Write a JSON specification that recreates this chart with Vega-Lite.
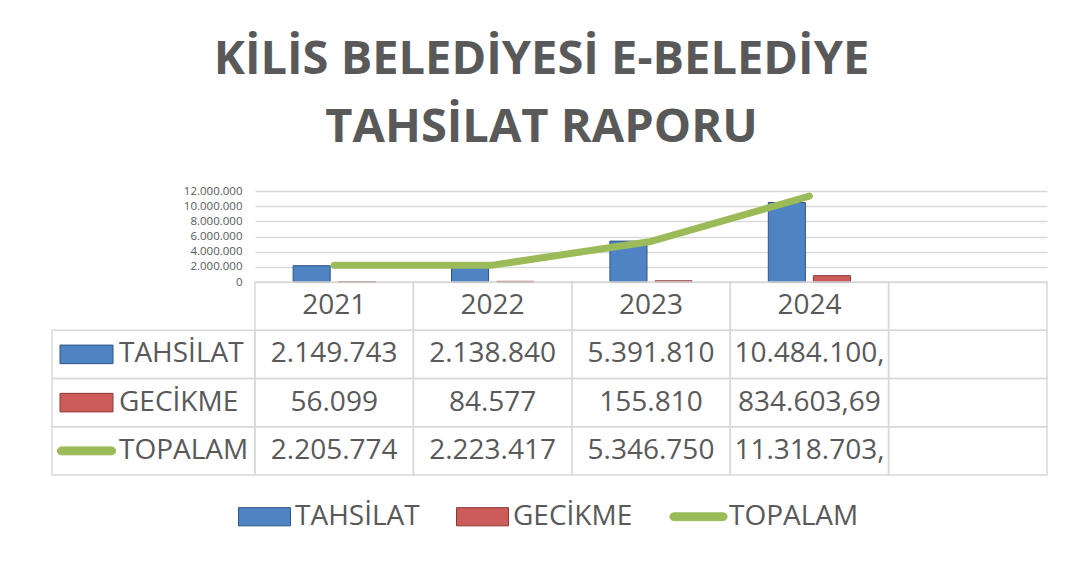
{
  "$schema": "https://vega.github.io/schema/vega-lite/v6.json",
  "width": 995,
  "height": 284,
  "autosize": {"type": "none"},
  "padding": {"left": 52, "top": 191, "right": 26, "bottom": 90},
  "background": "white",
  "config": {
    "view": {"stroke": null},
    "font": "Open Sans",
    "locale": {"number": {"decimal": ",", "thousands": ".", "grouping": [3], "currency": ["", " ₺"]}},
    "legend": {
      "labelFontSize": 28,
      "labelFont": "Open Sans",
      "labelColor": "#595959",
      "symbolSize": 2704,
      "symbolStrokeWidth": 1,
      "labelOffset": 4,
      "columnPadding": 34,
      "padding": 0,
      "labelLimit": 300
    }
  },
  "title": {
    "text": ["KİLİS BELEDİYESİ E-BELEDİYE", "TAHSİLAT RAPORU"],
    "fontSize": 47,
    "font": "Open Sans",
    "fontWeight": "bold",
    "color": "#595959",
    "lineHeight": 68,
    "anchor": "middle",
    "offset": 33,
    "dx": -8
  },
  "datasets": {
    "chart": [
      {"year": "2021", "series": "TAHSİLAT", "value": 2149743},
      {"year": "2022", "series": "TAHSİLAT", "value": 2138840},
      {"year": "2023", "series": "TAHSİLAT", "value": 5391810},
      {"year": "2024", "series": "TAHSİLAT", "value": 10484100},
      {"year": "2021", "series": "GECİKME", "value": 56099},
      {"year": "2022", "series": "GECİKME", "value": 84577},
      {"year": "2023", "series": "GECİKME", "value": 155810},
      {"year": "2024", "series": "GECİKME", "value": 834603.69},
      {"year": "2021", "series": "TOPALAM", "value": 2205774},
      {"year": "2022", "series": "TOPALAM", "value": 2223417},
      {"year": "2023", "series": "TOPALAM", "value": 5346750},
      {"year": "2024", "series": "TOPALAM", "value": 11318703}
    ],
    "cells": [
      {"row": "header", "col": "2021", "label": "2021"},
      {"row": "header", "col": "2022", "label": "2022"},
      {"row": "header", "col": "2023", "label": "2023"},
      {"row": "header", "col": "2024", "label": "2024"},
      {"row": "header", "col": " ", "label": ""},
      {"row": "TAHSİLAT", "col": "2021", "label": "2.149.743"},
      {"row": "TAHSİLAT", "col": "2022", "label": "2.138.840"},
      {"row": "TAHSİLAT", "col": "2023", "label": "5.391.810"},
      {"row": "TAHSİLAT", "col": "2024", "label": "10.484.100,"},
      {"row": "TAHSİLAT", "col": " ", "label": ""},
      {"row": "GECİKME", "col": "2021", "label": "56.099"},
      {"row": "GECİKME", "col": "2022", "label": "84.577"},
      {"row": "GECİKME", "col": "2023", "label": "155.810"},
      {"row": "GECİKME", "col": "2024", "label": "834.603,69"},
      {"row": "GECİKME", "col": " ", "label": ""},
      {"row": "TOPALAM", "col": "2021", "label": "2.205.774"},
      {"row": "TOPALAM", "col": "2022", "label": "2.223.417"},
      {"row": "TOPALAM", "col": "2023", "label": "5.346.750"},
      {"row": "TOPALAM", "col": "2024", "label": "11.318.703,"},
      {"row": "TOPALAM", "col": " ", "label": ""}
    ],
    "rows": [
      {"series": "TAHSİLAT"},
      {"series": "GECİKME"},
      {"series": "TOPALAM"}
    ]
  },
  "layer": [
    {
      "data": {"name": "chart"},
      "layer": [
        {
          "transform": [{"filter": "datum.series !== 'TOPALAM'"}],
          "mark": {"type": "bar", "strokeWidth": 1},
          "encoding": {
            "x": {"field": "year", "type": "nominal", "axis": null,
                  "scale": {"domain": ["2021", "2022", "2023", "2024", " "], "range": [203, 995], "paddingInner": 0, "paddingOuter": 0}},
            "xOffset": {"field": "series", "type": "nominal",
                  "scale": {"domain": ["TAHSİLAT", "GECİKME"], "paddingInner": 0.178, "paddingOuter": 0.845}},
            "y": {"field": "value", "type": "quantitative",
                  "scale": {"domain": [0, 12000000], "range": [91, 0], "nice": false},
                  "axis": {"orient": "left", "offset": -203, "values": [0, 2000000, 4000000, 6000000, 8000000, 10000000, 12000000],
                           "format": ",d", "domain": false, "ticks": false, "tickSize": 0, "labelPadding": 13,
                           "labelFontSize": 11.5, "labelFont": "Open Sans", "labelColor": "#595959",
                           "grid": true, "gridColor": "#D9D9D9", "gridWidth": 1.5, "title": null}},
            "fill": {"field": "series", "type": "nominal", "title": null,
                  "scale": {"domain": ["TAHSİLAT", "GECİKME", "TOPALAM"], "range": ["#4F84C4", "#CC5C59", "#9BBB59"]}},
            "stroke": {"field": "series", "type": "nominal", "title": null,
                  "scale": {"domain": ["TAHSİLAT", "GECİKME", "TOPALAM"], "range": ["#2F5385", "#8C3836", "#9BBB59"]}}
          }
        },
        {
          "transform": [{"filter": "datum.series === 'TOPALAM'"}],
          "mark": {"type": "line", "interpolate": "linear", "strokeCap": "round", "strokeJoin": "round"},
          "encoding": {
            "x": {"field": "year", "type": "nominal", "axis": null},
            "y": {"field": "value", "type": "quantitative"},
            "stroke": {"field": "series", "type": "nominal", "title": null,
                  "scale": {"domain": ["TAHSİLAT", "GECİKME", "TOPALAM"], "range": ["#2F5385", "#8C3836", "#9BBB59"]}},
            "strokeWidth": {"value": 7}
          }
        }
      ]
    },
    {
      "data": {"name": "cells"},
      "layer": [
        {
          "mark": {"type": "rect", "filled": false, "stroke": "#D9D9D9", "strokeWidth": 1.5},
          "encoding": {
            "x": {"field": "col", "type": "nominal", "axis": null,
                  "scale": {"domain": ["2021", "2022", "2023", "2024", " "], "range": [203, 995], "paddingInner": 0, "paddingOuter": 0}},
            "y": {"field": "row", "type": "nominal", "axis": null,
                  "scale": {"domain": ["header", "TAHSİLAT", "GECİKME", "TOPALAM"], "range": [91, 284], "paddingInner": 0, "paddingOuter": 0}}
          }
        },
        {
          "mark": {"type": "text", "fontSize": 28, "font": "Open Sans", "color": "#595959", "align": "center", "baseline": "middle"},
          "encoding": {
            "x": {"field": "col", "type": "nominal"},
            "y": {"field": "row", "type": "nominal"},
            "text": {"field": "label"}
          }
        }
      ]
    },
    {
      "data": {"name": "rows"},
      "layer": [
        {
          "mark": {"type": "rect", "filled": false, "stroke": "#D9D9D9", "strokeWidth": 1.5},
          "encoding": {
            "x": {"datum": "lab", "type": "nominal", "axis": null,
                  "scale": {"domain": ["lab"], "range": [0, 203], "paddingInner": 0, "paddingOuter": 0}},
            "y": {"field": "series", "type": "nominal", "axis": null,
                  "scale": {"domain": ["header", "TAHSİLAT", "GECİKME", "TOPALAM"], "range": [91, 284], "paddingInner": 0, "paddingOuter": 0}}
          }
        },
        {
          "mark": {"type": "point", "filled": true, "size": 2809, "opacity": 1, "strokeWidth": 1},
          "encoding": {
            "x": {"datum": "lab", "type": "nominal", "bandPosition": 0.17},
            "y": {"field": "series", "type": "nominal"},
            "shape": {"field": "series", "type": "nominal", "title": null,
                  "scale": {"domain": ["TAHSİLAT", "GECİKME", "TOPALAM"], "range": ["M-1,-0.35L1,-0.35L1,0.35L-1,0.35Z", "M-1,-0.35L1,-0.35L1,0.35L-1,0.35Z", "M-0.95,-0.15L0.95,-0.15A0.15,0.15,0,0,1,0.95,0.15L-0.95,0.15A0.15,0.15,0,0,1,-0.95,-0.15Z"]}},
            "fill": {"field": "series", "type": "nominal", "title": null,
                  "scale": {"domain": ["TAHSİLAT", "GECİKME", "TOPALAM"], "range": ["#4F84C4", "#CC5C59", "#9BBB59"]},
                  "legend": {"orient": "none", "legendX": 186, "legendY": 299, "direction": "horizontal", "title": null}},
            "stroke": {"field": "series", "type": "nominal", "title": null,
                  "scale": {"domain": ["TAHSİLAT", "GECİKME", "TOPALAM"], "range": ["#2F5385", "#8C3836", "#9BBB59"]}}
          }
        },
        {
          "mark": {"type": "text", "fontSize": 28, "font": "Open Sans", "color": "#595959", "align": "left", "baseline": "middle"},
          "encoding": {
            "x": {"datum": "lab", "type": "nominal", "bandPosition": 0.33},
            "y": {"field": "series", "type": "nominal"},
            "text": {"field": "series"}
          }
        }
      ]
    }
  ],
  "resolve": {"scale": {"x": "independent", "y": "independent"}}
}
